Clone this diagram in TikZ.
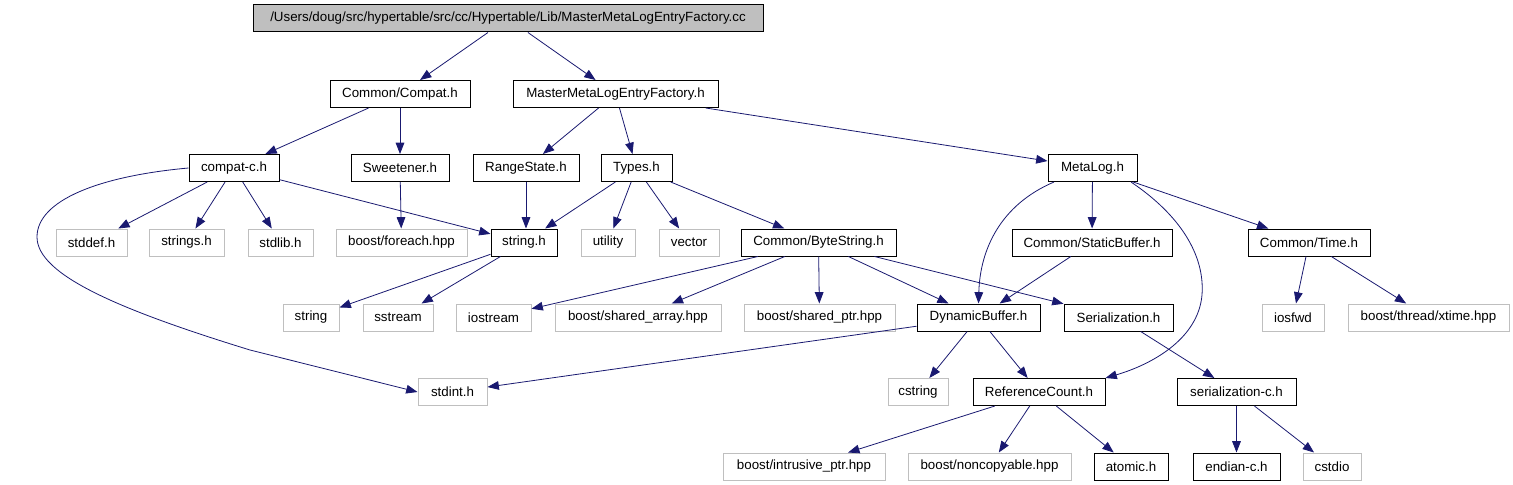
\documentclass[tikz,border=0pt]{standalone}
\usepackage{fontspec}
\setmainfont{Liberation Sans}
\usetikzlibrary{arrows.meta}
\definecolor{edgeBlue}{RGB}{25,25,112}
\definecolor{boxGray}{RGB}{191,191,191}

\begin{document}
\begin{tikzpicture}[
    x=0.75pt, y=-0.75pt,
    font=\fontsize{10}{12}\selectfont,
    hdr/.style={draw=black, line width=0.75pt, inner sep=0pt, minimum height=20.25pt, minimum width=#1*0.75pt},
    ext/.style={hdr=#1, draw=boxGray},
    top/.style={hdr=#1, fill=boxGray},
    dep/.style={edgeBlue, line width=0.6pt, -{Triangle[length=8.5pt,width=6.5pt]}}
]
  \useasboundingbox (0,0) rectangle (1513,485);

  % row 0 and 1
  \node[top=510] (root) at (508,18.5) {/Users/doug/src/hypertable/src/cc/Hypertable/Lib/MasterMetaLogEntryFactory.cc};
  \node[hdr=140] (compat) at (400,94) {Common/Compat.h};
  \node[hdr=205] (mmlef) at (615.5,94) {MasterMetaLogEntryFactory.h};

  % row 2
  \node[hdr=90] (ccompat) at (234,168) {compat-c.h};
  \node[hdr=98] (sweet) at (400,168) {Sweetener.h};
  \node[hdr=106] (range) at (526,168) {RangeState.h};
  \node[hdr=71] (types) at (636.5,168) {Types.h};
  \node[hdr=89] (metalog) at (1092.5,168) {MetaLog.h};

  % row 3
  \node[ext=71] (stddef) at (91.5,242.5) {stddef.h};
  \node[ext=75] (strings) at (186.5,242.5) {strings.h};
  \node[ext=65] (stdlib) at (280.5,242.5) {stdlib.h};
  \node[ext=131] (bforeach) at (401.5,242.5) {boost/foreach.hpp};
  \node[hdr=66] (stringh) at (524,242.5) {string.h};
  \node[ext=54] (utility) at (608,242.5) {utility};
  \node[ext=60] (vector) at (689,242.5) {vector};
  \node[hdr=155] (bytestr) at (818.5,242.5) {Common/ByteString.h};
  \node[hdr=160] (staticbuf) at (1092,242.5) {Common/StaticBuffer.h};
  \node[hdr=122] (timeh) at (1309,242.5) {Common/Time.h};

  % row 4
  \node[ext=56] (string) at (311,317.5) {string};
  \node[ext=70] (sstream) at (398,317.5) {sstream};
  \node[ext=75] (iostream) at (493.5,317.5) {iostream};
  \node[ext=166] (sharr) at (638,317.5) {boost/shared\_array.hpp};
  \node[ext=151] (shptr) at (819.5,317.5) {boost/shared\_ptr.hpp};
  \node[hdr=123] (dynbuf) at (978.5,317.5) {DynamicBuffer.h};
  \node[hdr=109] (serial) at (1118.5,317.5) {Serialization.h};
  \node[ext=62] (iosfwd) at (1293,317.5) {iosfwd};
  \node[ext=161] (xtime) at (1428.5,317.5) {boost/thread/xtime.hpp};

  % row 5
  \node[ext=69] (stdint) at (452.5,392) {stdint.h};
  \node[ext=60] (cstring) at (918,392) {cstring};
  \node[hdr=132] (refcnt) at (1039,392) {ReferenceCount.h};
  \node[hdr=119] (serialc) at (1236.5,392) {serialization-c.h};

  % row 6
  \node[ext=162] (intrus) at (804,466.5) {boost/intrusive\_ptr.hpp};
  \node[ext=163] (noncopy) at (989.5,466.5) {boost/noncopyable.hpp};
  \node[hdr=74] (atomic) at (1131,466.5) {atomic.h};
  \node[hdr=87] (endianc) at (1236.5,466.5) {endian-c.h};
  \node[ext=58] (cstdio) at (1332,466.5) {cstdio};

  % include edges
  \foreach \a/\b in {root/compat, root/mmlef, compat/ccompat, compat/sweet,
      mmlef/range, mmlef/types, mmlef/metalog, ccompat/stddef, ccompat/strings,
      ccompat/stdlib, ccompat/stringh, sweet/bforeach, types/stringh,
      types/utility, types/vector, types/bytestr, stringh/string, stringh/sstream,
      bytestr/iostream, bytestr/sharr, bytestr/shptr, bytestr/dynbuf, bytestr/serial,
      metalog/staticbuf, metalog/timeh, staticbuf/dynbuf, timeh/iosfwd, timeh/xtime,
      dynbuf/stdint, dynbuf/cstring, dynbuf/refcnt, serial/serialc, refcnt/intrus,
      refcnt/noncopy, refcnt/atomic, serialc/endianc, serialc/cstdio} {
    \draw[dep] (\a) -- (\b);
  }
  \draw[dep] (range.south) -- (range.south |- stringh.north);

  % curved ones
  \draw[dep] (ccompat.west) .. controls (100,176) and (37,200) .. (37,237)
    .. controls (37,275) and (120,310) .. (250,350) -- (stdint.west);
  \draw[dep] (metalog.-160) .. controls (1000,205) and (980,250) .. (dynbuf.north);
  \draw[dep] (metalog.-20) .. controls (1180,215) and (1205,255) .. (1202,295)
    .. controls (1198,340) and (1150,365) .. (refcnt.north east);
\end{tikzpicture}
\end{document}
